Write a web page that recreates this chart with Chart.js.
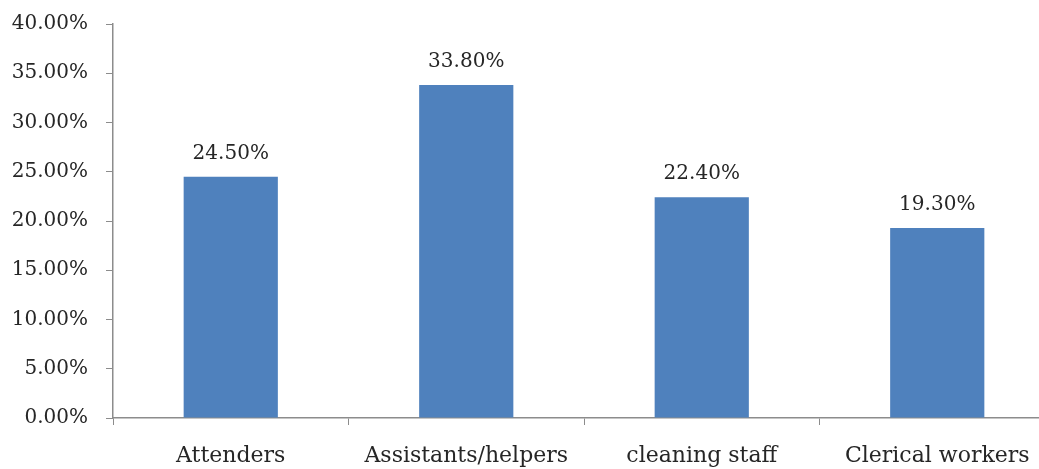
<!DOCTYPE html>
<html>
<head>
<meta charset="utf-8">
<script src="https://cdn.jsdelivr.net/npm/chart.js@4"></script>
<style>
    html, body { margin: 0; padding: 0; background: #fff; overflow: hidden; }
    #wrap { position: relative; width: 1055px; height: 469px; }
</style>
</head>
<body>
<div id="wrap"><canvas id="staffChart"></canvas></div>
<script>
const categories = ["Attenders", "Assistants/helpers", "cleaning staff", "Clerical workers"];
const shares = [24.5, 33.8, 22.4, 19.3];
const yTicks = [0, 5, 10, 15, 20, 25, 30, 35, 40];

const textColor = "#262626";
const axisColor = "#8c8c8c";
const serif = "'DejaVu Serif', serif";
const fontSize = 20;

// value labels above each bar
const barLabels = {
    id: 'barLabels',
    afterDatasetsDraw(chart) {
        const c = chart.ctx;
        const meta = chart.getDatasetMeta(0);
        c.save();
        c.font = fontSize + "px " + serif;
        c.fillStyle = textColor;
        c.textAlign = "center";
        c.textBaseline = "alphabetic";
        meta.data.forEach((bar, i) => {
            c.fillText(shares[i].toFixed(2) + "%", bar.x, bar.y - 18);
        });
        c.restore();
    }
};

const ctx = document.getElementById("staffChart").getContext("2d");

new Chart(ctx, {
    type: 'bar',
    data: {
        labels: categories,
        datasets: [{
            data: shares,
            backgroundColor: "#4f81bd",
            barPercentage: 0.4,
            categoryPercentage: 1.0
        }]
    },
    options: {
        responsive: true,
        maintainAspectRatio: false,
        animation: false,
        layout: { padding: { top: 24, right: 0, left: 0, bottom: 0 } },
        plugins: {
            legend: { display: false },
            tooltip: { enabled: false }
        },
        scales: {
            x: {
                offset: true,
                grid: {
                    offset: true,
                    drawOnChartArea: false,
                    drawTicks: true,
                    tickLength: 7,
                    color: axisColor
                },
                border: { color: axisColor, width: 1.5 },
                ticks: {
                    color: textColor,
                    padding: 18,
                    maxRotation: 0,
                    font: { family: serif, size: 22 }
                },
                afterFit(scale) {
                    scale.height = 51;
                    scale.paddingLeft = 0;
                    scale.paddingRight = 0;
                }
            },
            y: {
                min: 0,
                max: 40,
                afterBuildTicks(scale) {
                    scale.ticks = yTicks.map(v => ({ value: v }));
                },
                grid: {
                    drawOnChartArea: false,
                    drawTicks: true,
                    tickLength: 7,
                    color: axisColor
                },
                border: { color: axisColor, width: 1.5 },
                ticks: {
                    color: textColor,
                    padding: 18,
                    font: { family: serif, size: fontSize },
                    callback: v => v.toFixed(2) + "%"
                },
                afterFit(scale) {
                    scale.width = 113;
                    scale.paddingTop = 0;
                    scale.paddingBottom = 0;
                }
            }
        }
    },
    plugins: [barLabels]
});
</script>
</body>
</html>
